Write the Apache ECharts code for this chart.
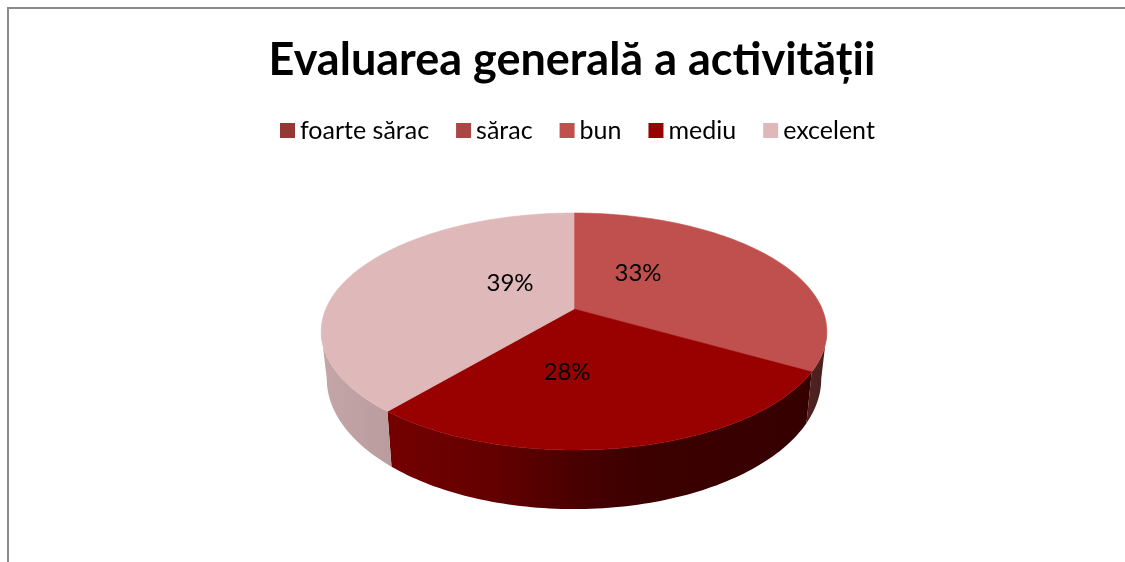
<!DOCTYPE html>
<html><head><meta charset="utf-8">
<style>html,body{margin:0;padding:0;background:#fff}#c{width:1125px;height:562px}</style>
<script src="https://cdn.jsdelivr.net/npm/echarts@6/dist/echarts.min.js"></script>
</head><body><div id="c"></div>
<script>
const titleText = 'Evaluarea generală a activității';
const categories = ['foarte sărac','sărac','bun','mediu','excelent'];
const shareValues = [0,0,33.3,27.8,38.9];
const sliceColors = ['#953735','#AA4643','#C0504D','#990000','#DFB9B9'];
const wallColors = [null,null,[[0,'#4F2322'],[1,'#4A1F1E']],[[0,'#740000'],[0.26,'#620000'],[0.44,'#4A0000'],[0.6,'#3C0000'],[1,'#360000']],[[0,'#C4A6A8'],[1,'#BA9B9E']]];
const labelOffsets = [null,null,[64,-36],[-7,63],[-64,-26]];

const view = {cx:574,cy:309,A:248.2,B:114.2,p:0.19,dy:45,fx:0.978,fy:1.1};
const total = shareValues.reduce((a,b)=>a+b,0);
function rim(theta,bottom){
  const c = Math.sin(theta), s = -Math.cos(theta), w = 1-view.p*s;
  const x = view.A*c/w, y = view.B*s/w;
  return bottom ? [view.cx+view.fx*x, view.cy+view.dy+view.fy*y] : [view.cx+x, view.cy+y];
}
function startOf(i){return shareValues.slice(0,i).reduce((a,b)=>a+b,0)/total*2*Math.PI;}
const visFrom = Math.acos(-view.p), visTo = 2*Math.PI-visFrom;
function arc(a,b,bottom){
  const n = Math.max(2,Math.ceil((b-a)/0.02)), pts=[];
  for(let k=0;k<=n;k++) pts.push(rim(a+(b-a)*k/n,bottom));
  return pts;
}
function renderSlice(i){
  return function(params,api){
    const val = api.value(0), kids=[];
    if(!val) return {type:'group',children:[]};
    const a = startOf(i), b = a+val/total*2*Math.PI;
    const wa = Math.max(a,visFrom), wb = Math.min(b,visTo);
    if(wb>wa){
      const top = arc(wa,wb,false), bot = arc(wa,wb,true).reverse();
      const stops = wallColors[i].map(s=>({offset:s[0],color:s[1]}));
      kids.push({type:'polygon',shape:{points:top.concat(bot)},
        style:{fill:new echarts.graphic.LinearGradient(0,0,1,0,stops),stroke:'none'}});
    }
    const face = [[view.cx,view.cy]].concat(arc(a,b,false));
    const col = sliceColors[i];
    kids.push({type:'polygon',shape:{points:face},style:{fill:col,stroke:col,lineWidth:0.6}});
    const off = labelOffsets[i];
    kids.push({type:'text',z2:10,style:{text:Math.round(val)+'%',x:view.cx+off[0],y:view.cy+off[1],
      align:'center',verticalAlign:'middle',fill:'#000',font:'24px Lato'}});
    return {type:'group',children:kids};
  };
}
const chart = echarts.init(document.getElementById('c'),null,{renderer:'canvas'});
chart.setOption({
  animation:false,
  backgroundColor:'#fff',
  title:{text:titleText,top:38,left:572,textAlign:'center',padding:0,textStyle:{fontFamily:'Lato',fontWeight:'bold',fontSize:45,color:'#000'}},
  legend:{data:categories,left:280,top:118,padding:0,icon:'rect',itemWidth:15,itemHeight:15,itemGap:27,selectedMode:false,
    textStyle:{fontFamily:'Lato',fontSize:25,color:'#000',padding:[0,0,0,0]}},
  graphic:[{type:'polyline',silent:true,shape:{points:[[8,562],[8,8],[1125,8]]},style:{stroke:'#8A8A8A',lineWidth:2,fill:'none'}}],
  tooltip:{show:false},
  series:categories.map((name,i)=>({
    type:'custom',name,coordinateSystem:'none',
    itemStyle:{color:sliceColors[i]},
    data:[[shareValues[i]]],
    renderItem:renderSlice(i)
  }))
});
</script></body></html>
